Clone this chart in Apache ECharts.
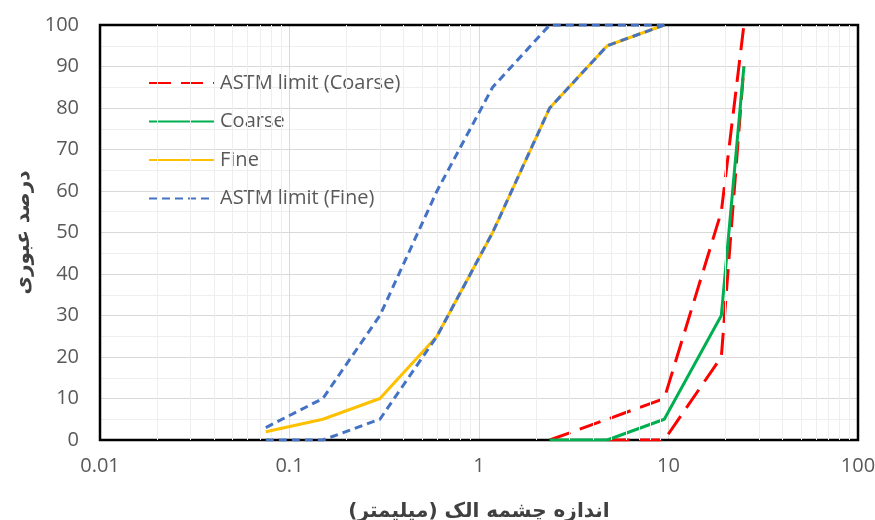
<!DOCTYPE html>
<html>
<head>
<meta charset="utf-8">
<script src="https://cdn.jsdelivr.net/npm/echarts@6/dist/echarts.min.js"></script>
<style>
html,body{margin:0;padding:0;background:#fff;}
#chart{width:875px;height:520px;}
</style>
</head>
<body>
<div id="chart"></div>
<script>
// ---- data ----
var xTickLabels = ['0.01', '0.1', '1', '10', '100'];
var yTickLabels = ['0', '10', '20', '30', '40', '50', '60', '70', '80', '90', '100'];
var seriesNames = ['ASTM limit (Coarse)', 'Coarse', 'Fine', 'ASTM limit (Fine)'];

var coarseLimitUpperX = [2.36, 4.75, 9.5, 19, 25];
var coarseLimitUpperY = [0, 5, 10, 55, 100];
var coarseLimitLowerX = [4.75, 9.5, 19, 25];
var coarseLimitLowerY = [0, 0, 20, 90];

var coarseX = [2.36, 4.75, 9.5, 19, 25];
var coarseY = [0, 0, 5, 30, 90];

var fineX = [0.075, 0.15, 0.3, 0.6, 1.18, 2.36, 4.75, 9.5];
var fineY = [2, 5, 10, 25, 50, 80, 95, 100];

var fineLimitUpperX = [0.075, 0.15, 0.3, 0.6, 1.18, 2.36, 4.75, 9.5];
var fineLimitUpperY = [3, 10, 30, 60, 85, 100, 100, 100];
var fineLimitLowerX = [0.075, 0.15, 0.3, 0.6, 1.18, 2.36, 4.75, 9.5];
var fineLimitLowerY = [0, 0, 5, 25, 50, 80, 95, 100];

// minor vertical grid positions (log decades 2..9)
var minorGridX = [0.02,0.03,0.04,0.05,0.06,0.07,0.08,0.09,
                  0.2,0.3,0.4,0.5,0.6,0.7,0.8,0.9,
                  2,3,4,5,6,7,8,9,
                  20,30,40,50,60,70,80,90];

var xMin = 0.01, xMax = 100, yMin = 0, yMax = 100;

function pairs(xs, ys) { return xs.map(function (x, i) { return [x, ys[i]]; }); }

var textColor = '#595959';
var baseFont = '"Open Sans", "Noto Sans", "DejaVu Sans", sans-serif';
var faFont = '"DejaVu Sans", "Noto Sans", sans-serif';

var chart = echarts.init(document.getElementById('chart'), null, {renderer: 'canvas'});

var red = '#FF0000', green = '#00B050', yellow = '#FFC000', blue = '#4472C4';

var option = {
  animation: false,
  backgroundColor: '#ffffff',
  grid: {
    left: 100, right: 17, top: 25, bottom: 80,
    containLabel: false, outerBoundsMode: 'none',
    show: false
  },
  legend: {
    data: seriesNames,
    orient: 'vertical',
    left: 143, top: 68,
    itemWidth: 66, itemHeight: 14, itemGap: 18.5,
    itemStyle: {opacity: 0},
    textStyle: {color: textColor, fontSize: 20, fontFamily: baseFont},
    backgroundColor: 'transparent'
  },
  xAxis: {
    type: 'log', logBase: 10, min: xMin, max: xMax,
    name: 'اندازه چشمه الک (میلیمتر)',
    nameLocation: 'middle', nameGap: 62,
    nameTextStyle: {color: '#404040', fontSize: 20, fontWeight: 'bold', fontFamily: faFont},
    axisLine: {show: true, onZero: false, lineStyle: {color: '#000', width: 2}},
    axisTick: {show: false},
    axisLabel: {
      color: textColor, fontSize: 20, fontFamily: baseFont, margin: 16,
      formatter: function (v, i) { return xTickLabels[i] !== undefined ? xTickLabels[i] : ''; }
    },
    splitLine: {show: true, lineStyle: {color: '#d9d9d9', width: 1}}
  },
  yAxis: {
    type: 'value', min: yMin, max: yMax, interval: 10,
    name: 'درصد عبوری',
    nameLocation: 'middle', nameGap: 66, nameRotate: 90,
    nameTextStyle: {color: '#404040', fontSize: 20, fontWeight: 'bold', fontFamily: faFont},
    axisLine: {show: true, onZero: false, lineStyle: {color: '#000', width: 2}},
    axisTick: {show: false},
    axisLabel: {
      color: textColor, fontSize: 20, fontFamily: baseFont, margin: 21,
      formatter: function (v) { var i = Math.round(v / 10); return yTickLabels[i]; }
    },
    splitLine: {show: true, lineStyle: {color: '#d9d9d9', width: 1}},
    minorTick: {show: false, splitNumber: 2},
    minorSplitLine: {show: true, lineStyle: {color: '#eeeeee', width: 1}}
  },
  series: [
    {
      name: '__grid', type: 'line', data: [], silent: true, z: 1,
      markLine: {
        silent: true, symbol: ['none', 'none'], label: {show: false},
        lineStyle: {color: '#eeeeee', width: 1, type: 'solid'},
        emphasis: {disabled: true},
        data: minorGridX.map(function (x) { return {xAxis: x}; })
      }
    },
    {
      name: seriesNames[0], type: 'line', data: pairs(coarseLimitUpperX, coarseLimitUpperY),
      symbol: 'none', z: 3, color: red,
      lineStyle: {color: red, width: 3, type: [22, 10]}
    },
    {
      name: seriesNames[0], type: 'line', data: pairs(coarseLimitLowerX, coarseLimitLowerY),
      symbol: 'none', z: 3, color: red,
      lineStyle: {color: red, width: 3, type: [22, 10]}
    },
    {
      name: seriesNames[1], type: 'line', data: pairs(coarseX, coarseY),
      symbol: 'none', z: 4, color: green,
      lineStyle: {color: green, width: 3, type: 'solid'}
    },
    {
      name: seriesNames[2], type: 'line', data: pairs(fineX, fineY),
      symbol: 'none', z: 5, color: yellow,
      lineStyle: {color: yellow, width: 3, type: 'solid'}
    },
    {
      name: seriesNames[3], type: 'line', data: pairs(fineLimitUpperX, fineLimitUpperY),
      symbol: 'none', z: 6, color: blue,
      lineStyle: {color: blue, width: 3, type: [8, 5]}
    },
    {
      name: seriesNames[3], type: 'line', data: pairs(fineLimitLowerX, fineLimitLowerY),
      symbol: 'none', z: 6, color: blue,
      lineStyle: {color: blue, width: 3, type: [8, 5]}
    },
    {
      name: '__frame', type: 'line', data: [], silent: true, z: 20, clip: false,
      markArea: {
        silent: true, label: {show: false},
        itemStyle: {color: 'rgba(0,0,0,0)', borderColor: '#000000', borderWidth: 2.5},
        emphasis: {disabled: true},
        data: [[{coord: [xMin, yMax]}, {coord: [xMax, yMin]}]]
      }
    }
  ]
};
chart.setOption(option);
</script>
</body>
</html>
